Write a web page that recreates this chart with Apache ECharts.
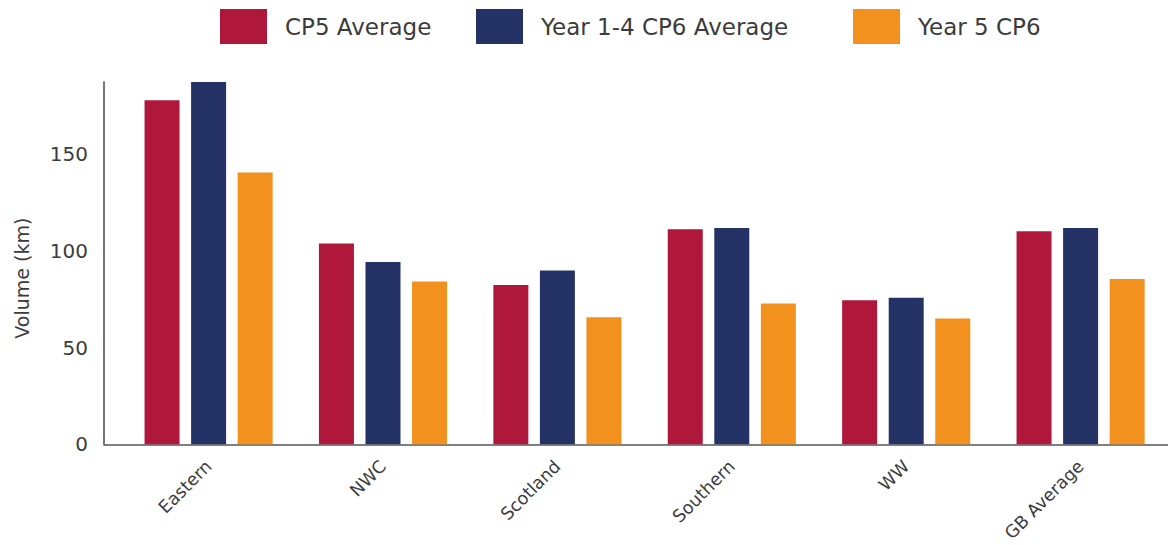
<!DOCTYPE html>
<html>
<head>
<meta charset="utf-8">
<title>Volume by route</title>
<script src="https://cdn.jsdelivr.net/npm/echarts@6/dist/echarts.min.js"></script>
<style>
  html, body { margin: 0; padding: 0; background: #fff; }
  #chart { width: 1168px; height: 545px; }
</style>
</head>
<body>
<div id="chart"></div>
<script>
// regions on the x axis
var categories = ['Eastern', 'NWC', 'Scotland', 'Southern', 'WW', 'GB Average'];
var seriesNames = ['CP5 Average', 'Year 1-4 CP6 Average', 'Year 5 CP6'];
// volumes in km
var cp5Average = [178.0, 103.9, 82.5, 111.3, 74.6, 110.3];
var cp6Year14Average = [187.5, 94.4, 90.0, 112.0, 75.8, 112.0];
var cp6Year5 = [140.6, 84.3, 65.7, 72.9, 65.1, 85.5];
var yTicks = [0, 50, 100, 150];
var yMax = 187.5;

var colors = ['#B0183B', '#243266', '#F2911E'];
var textColor = '#3c3c3c';
var font = 'DejaVu Sans';

var myChart = echarts.init(document.getElementById('chart'), null, { renderer: 'svg' });

// one legend per item so each sits where it does in the picture
var legendLefts = [220, 476, 853];
var legends = seriesNames.map(function (name, i) {
  return {
    data: [name],
    left: legendLefts[i],
    top: 9,
    padding: 0,
    itemWidth: 47,
    itemHeight: 35,
    icon: 'rect',
    textStyle: { fontFamily: font, fontSize: 23, color: textColor, padding: [0, 0, 0, 13] }
  };
});

var option = {
  animation: false,
  color: colors,
  legend: legends,
  grid: [
    // bars
    { left: 121.4, right: 0.2, top: 82, bottom: 100.7 },
    // axis lines (panel is a bit wider than the bar bands)
    { left: 104, right: 0, top: 82, bottom: 100.7 }
  ],
  xAxis: [{
    type: 'category',
    gridIndex: 0,
    data: categories,
    axisLine: { show: false },
    axisTick: { show: false },
    axisLabel: {
      rotate: 45,
      margin: 19,
      fontFamily: font,
      fontSize: 17.5,
      color: textColor
    }
  }, {
    type: 'value',
    gridIndex: 1,
    min: 0,
    max: 1,
    axisLine: { show: true, lineStyle: { color: '#555', width: 1.6 } },
    axisTick: { show: false },
    axisLabel: { show: false },
    splitLine: { show: false }
  }],
  yAxis: [{
    type: 'value',
    gridIndex: 0,
    min: 0,
    max: yMax,
    show: false
  }, {
    type: 'value',
    gridIndex: 1,
    min: 0,
    max: yMax,
    interval: 50,
    name: 'Volume (km)',
    nameLocation: 'middle',
    nameRotate: 90,
    nameGap: 73,
    nameTextStyle: { fontFamily: font, fontSize: 19, color: textColor, padding: [0, 30, 0, 0] },
    axisLine: { show: true, lineStyle: { color: '#555', width: 1.6 } },
    axisTick: { show: false },
    splitLine: { show: false },
    axisLabel: {
      margin: 16,
      fontFamily: font,
      fontSize: 20,
      color: textColor,
      showMaxLabel: false,
      formatter: function (v) {
        return yTicks.indexOf(v) >= 0 ? String(v) : '';
      }
    }
  }],
  series: [{
    name: seriesNames[0],
    type: 'bar',
    xAxisIndex: 0,
    yAxisIndex: 0,
    data: cp5Average,
    barWidth: 35,
    barGap: '33%'
  }, {
    name: seriesNames[1],
    type: 'bar',
    xAxisIndex: 0,
    yAxisIndex: 0,
    data: cp6Year14Average,
    barWidth: 35,
    barGap: '33%'
  }, {
    name: seriesNames[2],
    type: 'bar',
    xAxisIndex: 0,
    yAxisIndex: 0,
    data: cp6Year5,
    barWidth: 35,
    barGap: '33%'
  }]
};

myChart.setOption(option);
</script>
</body>
</html>
